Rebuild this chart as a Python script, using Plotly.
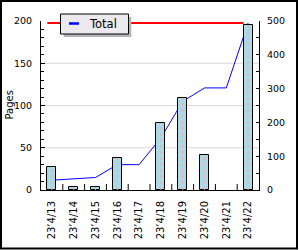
import plotly.graph_objects as go

# ---- data ----
dates = ["23\u20194/13", "23\u20194/14", "23\u20194/15", "23\u20194/16", "23\u20194/17",
         "23\u20194/18", "23\u20194/19", "23\u20194/20", "23\u20194/21", "23\u20194/22"]
pages = [27, 4, 4, 38, 0, 79, 109, 41, 0, 195]
totals = [29, 33, 37, 75, 75, 154, 262, 302, 302, 494]
left_ticks = [0, 50, 100, 150, 200]
right_ticks = [0, 100, 200, 300, 400, 500]
grid_vals = [50, 100, 150]

# ---- layout geometry (pixels) ----
W, H = 300, 250
ML, MR, MT, MB = 41, 41, 21, 60
PW, PH = W - ML - MR, H - MT - MB


def px_x(px):
    return (px - ML) / PW


def px_y(py):
    return (H - MB - py) / PH


xs = list(range(len(dates)))
bw = 0.42
FONT = "DejaVu Sans"

fig = go.Figure()

# red max line (right axis)
top = max(totals)
fig.add_trace(go.Scatter(x=[xs[0] - bw / 2, xs[-1] - bw / 2], y=[top, top], mode="lines",
                         line=dict(color="#FF0000", width=2), yaxis="y", showlegend=False,
                         hoverinfo="skip"))
# cumulative total line (right axis)
fig.add_trace(go.Scatter(x=xs, y=totals, mode="lines", name="Total",
                         line=dict(color="#0000FF", width=1), yaxis="y", showlegend=False))
# bars (left axis)
fig.add_trace(go.Bar(x=xs, y=pages, width=bw, yaxis="y2", showlegend=False,
                     marker=dict(color="#ADD8E6",
                                 line=dict(color="black",
                                           width=[1 if v > 0 else 0 for v in pages]))))
# dotted centre lines of bars
dx, dy = [], []
for x, v in zip(xs, pages):
    if v > 0:
        dx += [x, x, None]
        dy += [0, v, None]
fig.add_trace(go.Scatter(x=dx, y=dy, mode="lines", yaxis="y2", showlegend=False,
                         line=dict(color="#F2A8A8", width=1, dash="dot"), hoverinfo="skip"))

shapes = []
for g in grid_vals:
    shapes.append(dict(type="line", xref="paper", yref="y2", x0=0, x1=1, y0=g, y1=g,
                       line=dict(color="#D8D8D8", width=1), layer="below"))
# category boundary ticks on the x axis
for x in xs[:-1]:
    shapes.append(dict(type="line", xref="x", yref="paper", x0=x + 0.5, x1=x + 0.5,
                       y0=0, y1=6 / PH, line=dict(color="black", width=1)))
# outer frame
shapes.append(dict(type="rect", xref="paper", yref="paper", x0=px_x(1), x1=px_x(297),
                   y0=px_y(248.5), y1=px_y(1), line=dict(color="black", width=2)))
# legend shadow and box
shapes.append(dict(type="rect", xref="paper", yref="paper", x0=px_x(63.7), x1=px_x(131.3),
                   y0=px_y(37), y1=px_y(17), fillcolor="#B4B4B4", line=dict(width=0)))
shapes.append(dict(type="rect", xref="paper", yref="paper", x0=px_x(60.5), x1=px_x(128.5),
                   y0=px_y(34), y1=px_y(14), fillcolor="#ECEAEF",
                   line=dict(color="black", width=1)))
shapes.append(dict(type="line", xref="paper", yref="paper", x0=px_x(69), x1=px_x(79),
                   y0=px_y(23.5), y1=px_y(23.5), line=dict(color="#0000FF", width=2.5)))

annotations = [
    dict(text="Total", xref="paper", yref="paper", x=px_x(87), y=px_y(24), xanchor="left",
         yanchor="middle", showarrow=False, font=dict(family=FONT, size=11.5, color="black")),
    dict(text="Pages", xref="paper", yref="paper", x=px_x(9), y=0.5, xanchor="center",
         yanchor="middle", textangle=-90, showarrow=False,
         font=dict(family=FONT, size=10, color="black")),
]

fig.update_layout(
    width=W, height=H,
    margin=dict(l=ML, r=MR, t=MT, b=MB, pad=0),
    paper_bgcolor="white", plot_bgcolor="white",
    font=dict(family=FONT, size=10, color="black"),
    showlegend=False,
    shapes=shapes, annotations=annotations,
    xaxis=dict(range=[-0.5, len(xs) - 0.5], tickmode="array", tickvals=xs, ticktext=dates,
               tickangle=-90, ticks="", showline=True, linecolor="black", linewidth=1,
               showgrid=False, zeroline=False, ticklabelstandoff=6,
               tickfont=dict(family=FONT, size=10)),
    yaxis=dict(range=[0, 500], side="right", tickmode="array", tickvals=right_ticks,
               ticks="inside", ticklen=3, tickcolor="black", showline=True, linecolor="black",
               showgrid=False, zeroline=False, ticklabelstandoff=5,
               tickfont=dict(family=FONT, size=9.5),
               minor=dict(dtick=50, ticks="inside", ticklen=3, tickcolor="black")),
    yaxis2=dict(range=[0, 200], overlaying="y", side="left", tickmode="array",
                tickvals=left_ticks, ticks="inside", ticklen=4, tickcolor="black",
                showline=True, linecolor="black", showgrid=False, zeroline=False,
                ticklabelstandoff=6, tickfont=dict(family=FONT, size=9.5),
                minor=dict(dtick=10, ticks="inside", ticklen=3, tickcolor="black")),
    bargap=0,
)

fig.write_html("out.html")
